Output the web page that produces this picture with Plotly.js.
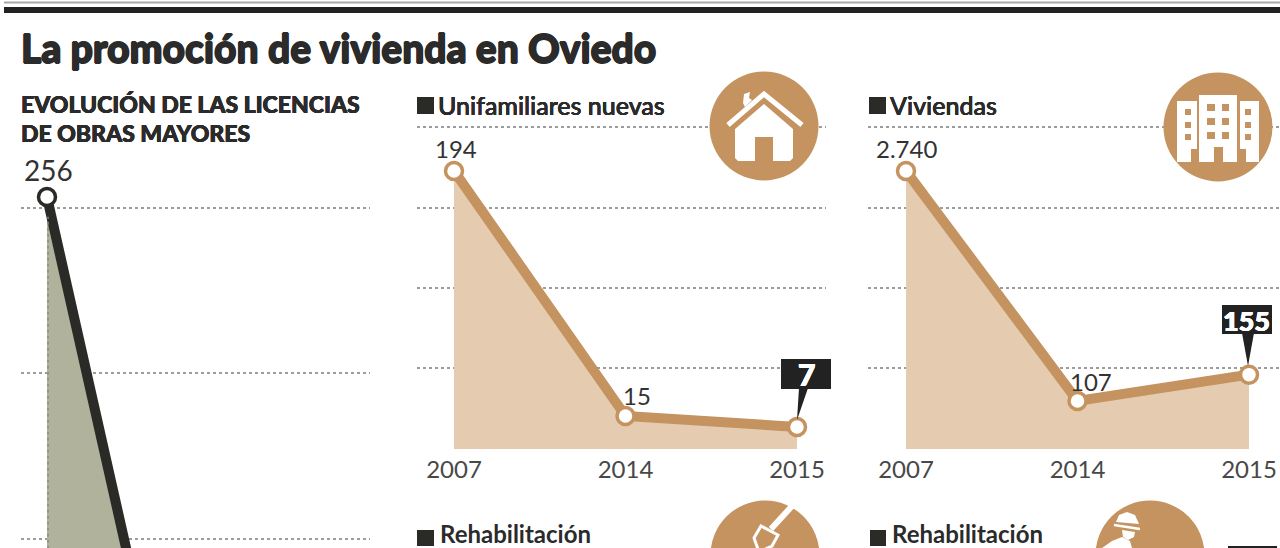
<!DOCTYPE html>
<html><head><meta charset="utf-8">
<script src="https://cdn.plot.ly/plotly-3.0.1.min.js"></script>
<style>html,body{margin:0;padding:0;background:#fff}#c{width:1280px;height:548px}</style>
</head><body><div id="c"></div>
<script>
// ---- data ----
const years = ["2007","2014","2015"];
const licencias = [256, 56];              // second point estimated from the slope (runs off the picture)
const unifamiliares = [194, 15, 7];
const viviendas = [2740, 107, 155];
const licenciasGrid = [152, 202.5, 252.7];
const unifamiliaresGrid = [-9.1, 50, 108.5, 167, 226];
const viviendasGrid = [54.3, 170, 526, 1625, 5093];
const unifamiliaresFloor = -9.1;
const viviendasFloor = 54.3;

const W = 1280, H = 548;
const TAN = '#c4935f', FILL = '#e5cbb0', DARK = '#2a2a26', OLIVE = '#b1b29c', GRID = '#9c9c9c';
const FONT = 'Lato, "Noto Sans", sans-serif';
const idx = a => a.map((_, i) => i);
const fx = p => p / W, fy = p => 1 - p / H;

function xAxis(l, r, x0, step, labels) {
  return {domain:[fx(l),fx(r)], range:[(l-x0)/step,(r-x0)/step], type:'linear', showgrid:false, zeroline:false, showline:false, ticks:'',
    tickmode:'array', tickvals:labels?idx(labels):[], ticktext:labels||[], showticklabels:!!labels,
    tickfont:{family:FONT,size:24,color:'#484848'}, ticklabelstandoff:4, fixedrange:true};
}
function yAxis(top, bottom, range, grid, type) {
  return {domain:[fy(bottom),fy(top)], range, type:type||'linear', showticklabels:false, showline:false, zeroline:false, ticks:'',
    tickmode:'array', tickvals:grid, showgrid:true, gridcolor:GRID, griddash:'dot', gridwidth:1.5, fixedrange:true};
}
function area(x, y, xa, ya, lineColor, fillColor, floor) {
  const out = [];
  if (floor !== undefined) out.push({x, y:x.map(()=>floor), xaxis:xa, yaxis:ya, mode:'lines', line:{width:0,color:'rgba(0,0,0,0)'}, hoverinfo:'skip', showlegend:false});
  out.push({x, y, xaxis:xa, yaxis:ya, mode:'lines', line:{color:lineColor,width:10}, fill:floor!==undefined?'tonexty':'tozeroy', fillcolor:fillColor, hoverinfo:'skip', showlegend:false, cliponaxis:false});
  out.push({x, y, xaxis:xa, yaxis:ya, mode:'markers', marker:{size:17,color:'#fff',line:{color:lineColor,width:3.5}}, hoverinfo:'skip', showlegend:false, cliponaxis:false});
  return out;
}
const traces = [
  ...area(idx(licencias), licencias, 'x', 'y', DARK, OLIVE),
  ...area(idx(unifamiliares), unifamiliares, 'x2', 'y2', TAN, FILL, unifamiliaresFloor),
  ...area(idx(viviendas), viviendas, 'x3', 'y3', TAN, FILL, viviendasFloor)
];

// ---- text ----
function txt(text, x, y, size, opts) {
  opts = opts || {};
  const f = {family:FONT,size,color:opts.c||'#2b2b2b',weight:opts.w||400};
  if (opts.s) f.shadow = `${opts.s}px 0 0 ${f.color}, -${opts.s}px 0 0 ${f.color}, 0 ${opts.s}px 0 ${f.color}, 0 -${opts.s}px 0 ${f.color}`;
  return {text, x:fx(x), y:fy(y), xref:'paper', yref:'paper', showarrow:false, xanchor:opts.a||'left', yanchor:'middle', font:f};
}
const annotations = [
  txt('La promoción de vivienda en Oviedo', 19, 48, 39, {w:900, s:0.8}),
  txt('EVOLUCIÓN DE LAS LICENCIAS', 19, 104, 23, {w:900, s:0.3}),
  txt('DE OBRAS MAYORES', 19, 133, 23, {w:900, s:0.3}),
  txt('Unifamiliares nuevas', 436, 105, 25, {w:500, s:0.2}),
  txt('Viviendas', 888, 105, 25, {w:500, s:0.2}),
  txt('Rehabilitación', 438, 533, 24, {w:700}),
  txt('Rehabilitación', 890, 533, 24, {w:700}),
  txt(String(licencias[0]), 48, 170, 28, {a:'center',c:'#333'}),
  txt(String(unifamiliares[0]), 456, 149, 24, {a:'center',c:'#333'}),
  txt(String(unifamiliares[1]), 637, 395, 24, {a:'center',c:'#333'}),
  txt(String(unifamiliares[2]), 806, 374, 30, {a:'center',c:'#fff',w:900,s:0.4}),
  txt('2.740', 906, 148, 24, {a:'center',c:'#333'}),
  txt(String(viviendas[1]), 1091, 381, 24, {a:'center',c:'#333'}),
  txt(String(viviendas[2]), 1246, 320, 27, {a:'center',c:'#fff',w:900,s:0.4})
];

// ---- decoration: rules, squares, callouts, icons ----
const rect = (x0,y0,x1,y1,color) => ({type:'rect',xref:'paper',yref:'paper',x0:fx(x0),x1:fx(x1),y0:fy(y0),y1:fy(y1),fillcolor:color,line:{width:0},layer:'above'});
const circle = (cx,cy,r,color) => ({type:'circle',xref:'paper',yref:'paper',x0:fx(cx-r),x1:fx(cx+r),y0:fy(cy-r),y1:fy(cy+r),fillcolor:color,line:{width:0},layer:'above'});
const poly = (pts,color,close,width,stroke) => ({type:'path',xref:'paper',yref:'paper',
  path:'M'+pts.map(p=>fx(p[0])+','+fy(p[1])).join(' L')+(close?' Z':''),
  fillcolor:close?color:'rgba(0,0,0,0)',line:{width:width||0,color:stroke||color},layer:'above'});

const shapes = [
  rect(4,1.5,W,3.5,'#a8a8a8'), rect(4,7,W,13,'#222'),
  rect(417,97,434,114,DARK), rect(869,97,886,114,DARK), rect(417,530,434,546,DARK), rect(870,530,886,546,DARK),
  // white stems under 2014
  {type:'line',xref:'x2',yref:'y2',x0:1,x1:1,y0:unifamiliaresFloor,y1:unifamiliares[1],line:{color:'#fbf5ee',width:3},layer:'between'},
  {type:'line',xref:'x3',yref:'y3',x0:1,x1:1,y0:viviendasFloor,y1:viviendas[1],line:{color:'#fbf5ee',width:4},layer:'between'},
  // dotted left edge of the left area
  {type:'line',xref:'x',yref:'y',x0:0.007,x1:0.007,y0:149,y1:licencias[0]-6,line:{color:'#8b8b80',width:1.5,dash:'dot'},layer:'above'},
  // callouts
  rect(781,359,831,389,'#222'), poly([[799,388],[808,388],[797,420]],'#222',true),
  rect(1222,305,1272,334,'#222'), poly([[1242,333],[1254,333],[1248,366]],'#222',true),
  rect(1228,546,1277,548,'#222'),
  // house
  circle(764,126,54.5,TAN),
  poly([[735,129],[764,104],[793,129],[793,158],[790,161],[738,161],[735,158]],'#fff',true),
  rect(755,137,773,161,TAN),
  poly([[728,125],[764,94],[802,125]],'#fff',false,5),
  poly([[743,103],[744,94],[750,92],[749,98],[752,100],[745,107]],'#fff',true),
  // buildings
  circle(1218,127,54.5,TAN),
  rect(1177,101,1197,162,'#fff'), rect(1199,95,1237,162,'#fff'), rect(1240,101,1259,162,'#fff'),
  rect(1214,147,1223,162,TAN), rect(1191,149,1197,162,TAN), rect(1240,149,1246,162,TAN)
];
[109,122,134].forEach(y=>{shapes.push(rect(1185,y,1191,y+6,TAN)); shapes.push(rect(1245,y,1251,y+6,TAN));});
[104,118,132].forEach(y=>{shapes.push(rect(1207,y,1215,y+7,TAN)); shapes.push(rect(1222,y,1229,y+7,TAN));});
// lower icons, cut by the picture's edge
shapes.push(circle(765,555,54.5,TAN));
shapes.push(poly([[771,529],[792,506]],'#fff',false,6));
shapes.push(poly([[761,526],[778,535],[772,546],[759,552],[754,538]],TAN,true,3,'#fff'));
shapes.push(circle(1150,555,54.5,TAN));
shapes.push(poly([[1116,522],[1119,515],[1127,512],[1135,515],[1139,524]],'#fff',true));
shapes.push(poly([[1114,525],[1140,529]],'#fff',false,2.5));
shapes.push(poly([[1122,530],[1135,532],[1134,537],[1128,540],[1123,537]],'#fff',true));
shapes.push(poly([[1112,541],[1122,537],[1130,541],[1132,548],[1102,548]],'#fff',true));

const layout = {
  width:W, height:H, margin:{l:0,r:0,t:0,b:0,pad:0}, paper_bgcolor:'#fff', plot_bgcolor:'rgba(0,0,0,0)', showlegend:false,
  xaxis:xAxis(21,370,47,148), yaxis:yAxis(150,548,[149.2,270.3],licenciasGrid),
  xaxis2:Object.assign(xAxis(417,826,454,171.5,years),{anchor:'y2'}), yaxis2:Object.assign(yAxis(120,449,[unifamiliaresFloor,231.2],unifamiliaresGrid),{anchor:'x2'}),
  xaxis3:Object.assign(xAxis(868,1280,906,171.5,years),{anchor:'y3'}), yaxis3:Object.assign(yAxis(120,449,[Math.log10(viviendasFloor),3.75],viviendasGrid,'log'),{anchor:'x3'}),
  annotations, shapes
};
Plotly.newPlot('c', traces, layout, {staticPlot:true, displayModeBar:false});
</script></body></html>
